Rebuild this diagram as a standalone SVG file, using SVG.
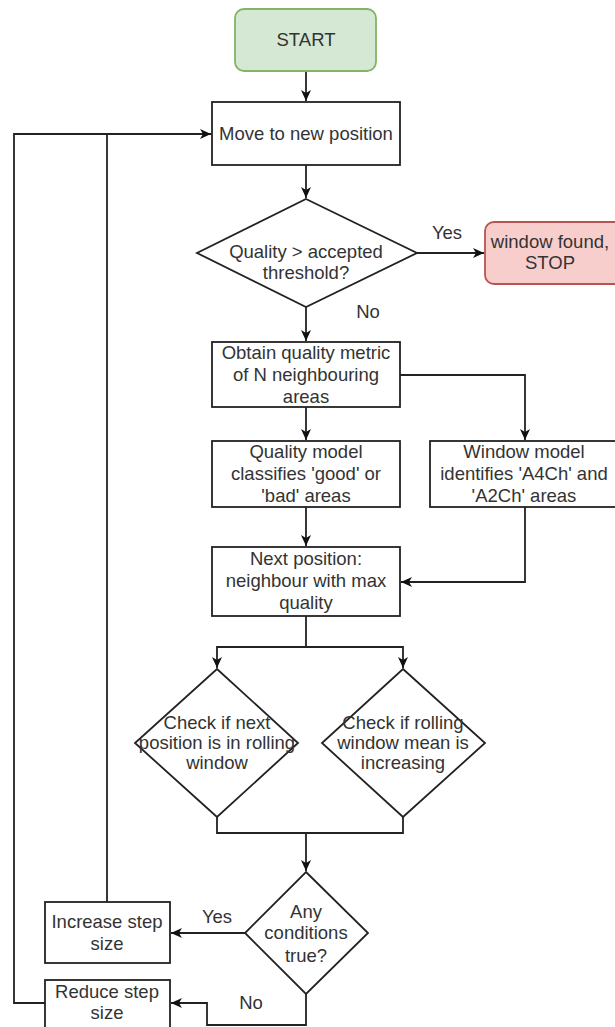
<svg xmlns="http://www.w3.org/2000/svg" width="615" height="1027" viewBox="0 0 615 1027">
<style>
.box{fill:#fff;stroke:#222;stroke-width:1.8}
.start{fill:#d5e8d4;stroke:#82b366;stroke-width:1.8}
.stop{fill:#f8cecc;stroke:#b85450;stroke-width:1.8}
.t{font-family:"Liberation Sans",Arial,sans-serif;font-size:18.5px;fill:#333;text-anchor:middle}
.c{fill:none;stroke:#222;stroke-width:1.8}
</style>
<defs>
<marker id="arr" markerUnits="userSpaceOnUse" markerWidth="12" markerHeight="12" viewBox="0 0 12 12" refX="11" refY="6" orient="auto">
<path d="M0,1 L11,6 L0,11 L3,6 z" fill="#111"/>
</marker>
</defs>
<rect width="615" height="1027" fill="#fff"/>
<g id="connectors">
<path class="c" d="M306,71 L306,101" marker-end="url(#arr)"/>
<path class="c" d="M306,165 L306,198" marker-end="url(#arr)"/>
<path class="c" d="M417,253 L484,253" marker-end="url(#arr)"/>
<path class="c" d="M306,307 L306,341" marker-end="url(#arr)"/>
<path class="c" d="M400,375 L525,375 L525,440" marker-end="url(#arr)"/>
<path class="c" d="M306,407 L306,440" marker-end="url(#arr)"/>
<path class="c" d="M306,507 L306,546" marker-end="url(#arr)"/>
<path class="c" d="M525,507 L525,582 L401,582" marker-end="url(#arr)"/>
<path class="c" d="M306,616 L306,647 L217,647 L217,668" marker-end="url(#arr)"/>
<path class="c" d="M306,647 L403,647 L403,668" marker-end="url(#arr)"/>
<path class="c" d="M217,817 L217,833 L403,833 L403,817"/>
<path class="c" d="M306,833 L306,871" marker-end="url(#arr)"/>
<path class="c" d="M245,933 L171,933" marker-end="url(#arr)"/>
<path class="c" d="M306,994 L306,1025 L207,1025 L207,1003 L171,1003" marker-end="url(#arr)"/>
<path class="c" d="M107,902 L107,134"/>
<path class="c" d="M45,1003 L14,1003 L14,134 L211,134" marker-end="url(#arr)"/>
<text class="t" x="447" y="239">Yes</text>
<text class="t" x="368" y="318">No</text>
<text class="t" x="217" y="923">Yes</text>
<text class="t" x="251" y="1009">No</text>
</g>
<g id="start">
<rect class="start" x="235" y="9" width="141" height="62" rx="9"/>
<text class="t" x="306" y="46">START</text>
</g>
<g id="move">
<rect class="box" x="212" y="102" width="188" height="63"/>
<text class="t" x="306" y="140">Move to new position</text>
</g>
<g id="quality-check">
<polygon class="box" points="306,199 417,253 306,307 197,253"/>
<text class="t" x="306" y="258">Quality &gt; accepted</text>
<text class="t" x="306" y="279">threshold?</text>
</g>
<g id="window-found">
<rect class="stop" x="485" y="222" width="150" height="62" rx="9"/>
<text class="t" x="550" y="248">window found,</text>
<text class="t" x="550" y="269">STOP</text>
</g>
<g id="obtain">
<rect class="box" x="212" y="342" width="188" height="65"/>
<text class="t" x="306" y="359">Obtain quality metric</text>
<text class="t" x="306" y="381">of N neighbouring</text>
<text class="t" x="306" y="403">areas</text>
</g>
<g id="quality-model">
<rect class="box" x="212" y="441" width="188" height="66"/>
<text class="t" x="306" y="458">Quality model</text>
<text class="t" x="306" y="480">classifies 'good' or</text>
<text class="t" x="306" y="502">'bad' areas</text>
</g>
<g id="window-model">
<rect class="box" x="430" y="441" width="195" height="66"/>
<text class="t" x="524" y="458">Window model</text>
<text class="t" x="524" y="480">identifies 'A4Ch' and</text>
<text class="t" x="524" y="502">'A2Ch' areas</text>
</g>
<g id="next-position">
<rect class="box" x="212" y="547" width="188" height="69"/>
<text class="t" x="306" y="565">Next position:</text>
<text class="t" x="306" y="587">neighbour with max</text>
<text class="t" x="306" y="609">quality</text>
</g>
<g id="check-next">
<polygon class="box" points="217,669 298,743 217,817 135,743"/>
<text class="t" x="217" y="729">Check if next</text>
<text class="t" x="217" y="749">position is in rolling</text>
<text class="t" x="217" y="769">window</text>
</g>
<g id="check-rolling">
<polygon class="box" points="403,669 485,743 403,817 322,743"/>
<text class="t" x="403" y="729">Check if rolling</text>
<text class="t" x="403" y="749">window mean is</text>
<text class="t" x="403" y="769">increasing</text>
</g>
<g id="any-conditions">
<polygon class="box" points="306,872 368,933 306,994 245,933"/>
<text class="t" x="306" y="918">Any</text>
<text class="t" x="306" y="939">conditions</text>
<text class="t" x="306" y="962">true?</text>
</g>
<g id="increase">
<rect class="box" x="45" y="902" width="125" height="61"/>
<text class="t" x="107" y="928">Increase step</text>
<text class="t" x="107" y="950">size</text>
</g>
<g id="reduce">
<rect class="box" x="45" y="980" width="125" height="60"/>
<text class="t" x="107" y="998">Reduce step</text>
<text class="t" x="107" y="1019">size</text>
</g>
</svg>
